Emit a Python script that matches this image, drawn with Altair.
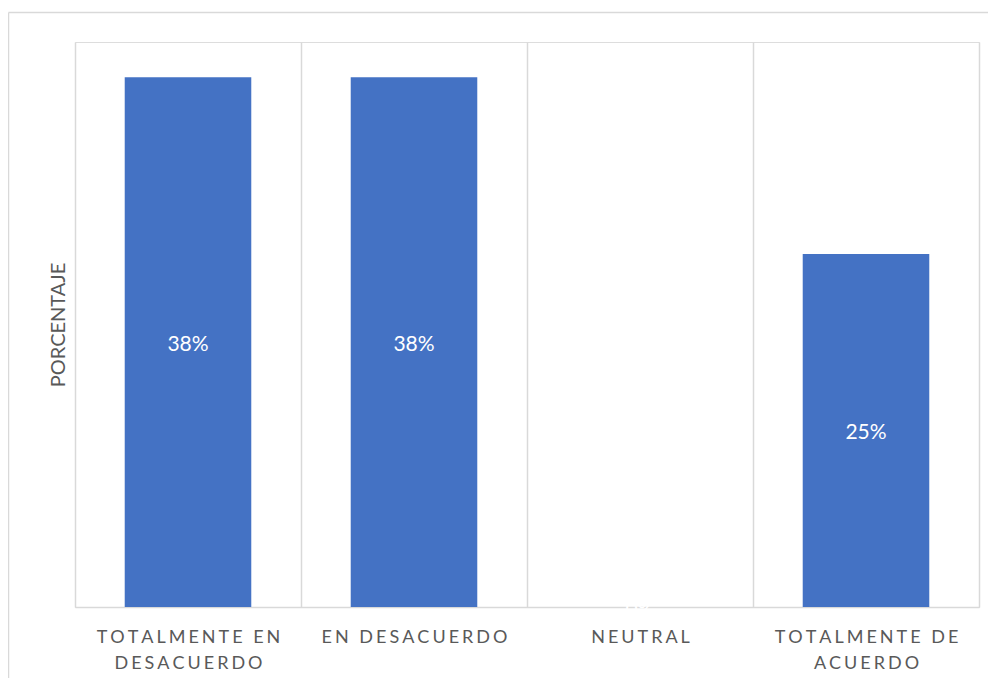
import altair as alt
import pandas as pd

categories = ["TOTALMENTE EN|DESACUERDO", "EN DESACUERDO", "NEUTRAL", "TOTALMENTE DE|ACUERDO"]
values = [0.375, 0.375, 0.0, 0.25]
value_labels = ["38%", "38%", "0%", "25%"]

GAP = "\u2006"


def spaced(s):
    return "|".join(GAP.join(list(part)) for part in s.split("|"))


cat_spaced = [spaced(c) for c in categories]

df = pd.DataFrame({"cat": cat_spaced, "val": values, "lbl": value_labels})

GRID = "#d9d9d9"
TXT = "#595959"
FONT = "Lato"

x_enc = alt.X(
    "cat:N",
    sort=cat_spaced,
    scale=alt.Scale(paddingInner=0, paddingOuter=0),
    axis=alt.Axis(
        title=None,
        labelExpr="datum.value ? split(datum.value, '|') : ''",
        labelAngle=0,
        labelFont=FONT,
        labelFontSize=18,
        labelColor=TXT,
        labelPadding=21,
        labelLineHeight=26,
        labelLimit=300,
        ticks=False,
        tickSize=0,
        tickBand="extent",
        grid=True,
        gridColor=GRID,
        gridWidth=1.5,
        domainColor=GRID,
        domainWidth=1.5,
    ),
)

y_scale = alt.Scale(domain=[0, 0.4])

bars = alt.Chart(df).mark_bar(color="#4472C4", width=alt.RelativeBandSize(0.56)).encode(
    x=x_enc,
    y=alt.Y(
        "val:Q",
        scale=y_scale,
        axis=alt.Axis(
            title="PORCENTAJE",
            labels=False,
            ticks=False,
            domain=False,
            grid=False,
            titleFont=FONT,
            titleFontSize=20,
            titleFontWeight="normal",
            titleColor=TXT,
            titlePadding=7,
        ),
    ),
)

texts = alt.Chart(df).transform_calculate(mid="datum.val / 2").mark_text(
    color="white", font=FONT, fontSize=21, baseline="middle", dy=3
).encode(
    x=alt.X("cat:N", sort=cat_spaced),
    y=alt.Y("mid:Q", scale=y_scale),
    text="lbl:N",
)

frame = pd.DataFrame({"k": [0]})
top_border = alt.Chart(frame).mark_rule(color=GRID, strokeWidth=1.5).encode(
    x=alt.value(-66.5), x2=alt.value(940), y=alt.value(-29.5)
)
left_border = alt.Chart(frame).mark_rule(color=GRID, strokeWidth=1.5).encode(
    x=alt.value(-66.5), y=alt.value(-29.5), y2=alt.value(700)
)

chart = (
    alt.layer(bars, texts, top_border, left_border)
    .properties(
        width=904,
        height=565,
        autosize=alt.AutoSizeParams(type="none"),
        padding={"left": 67, "top": 34, "right": 9, "bottom": 71},
    )
    .configure_view(strokeWidth=0, strokeOpacity=0)
    .configure(background="white")
)

chart.save("out.html", embed_options={"renderer": "svg", "actions": False})
